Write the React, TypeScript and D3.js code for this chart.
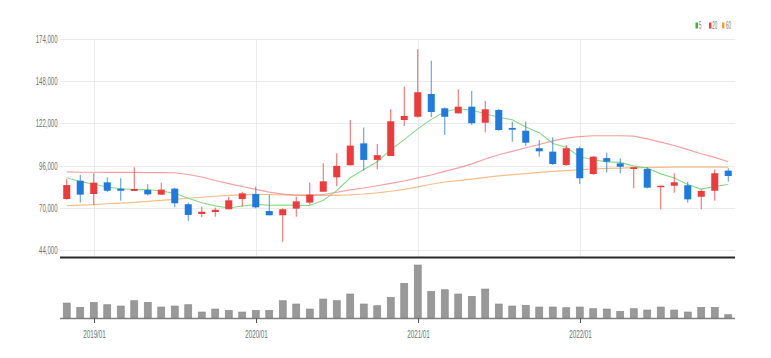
import React from 'react';
import * as d3 from 'd3';

const months = [
  '2018/11','2018/12',
  '2019/01','2019/02','2019/03','2019/04','2019/05','2019/06','2019/07','2019/08','2019/09','2019/10','2019/11','2019/12',
  '2020/01','2020/02','2020/03','2020/04','2020/05','2020/06','2020/07','2020/08','2020/09','2020/10','2020/11','2020/12',
  '2021/01','2021/02','2021/03','2021/04','2021/05','2021/06','2021/07','2021/08','2021/09','2021/10','2021/11','2021/12',
  '2022/01','2022/02','2022/03','2022/04','2022/05','2022/06','2022/07','2022/08','2022/09','2022/10','2022/11','2022/12',
];

const opens = [75400, 86700, 78500, 85700, 81800, 80400, 81000, 78100, 81800, 72200, 66200, 67400, 69100, 75400, 78500, 68000, 65400, 69500, 73200, 79900, 88800, 96200, 109700, 99500, 101900, 124100, 126100, 140100, 131300, 128200, 132300, 122400, 130300, 119200, 117500, 106700, 104600, 96400, 106700, 90800, 100600, 97400, 93900, 93900, 82800, 83600, 83900, 76800, 80500, 92900];
const highs = [87700, 90200, 91300, 88800, 88200, 95000, 84500, 85500, 82400, 73200, 70700, 70100, 76800, 79900, 83000, 77900, 69700, 76800, 85500, 97400, 103600, 124100, 119400, 109300, 130700, 144600, 167700, 160600, 131800, 143000, 142000, 135800, 130700, 123100, 123100, 111800, 113400, 108700, 107700, 101900, 104000, 100500, 95000, 95000, 83600, 91300, 86100, 81400, 93700, 94300];
const lows = [75000, 73200, 71700, 79600, 74400, 80400, 77500, 78100, 70300, 61900, 64200, 64500, 69100, 70700, 69700, 65400, 49100, 64500, 71900, 79900, 83400, 96200, 92900, 93700, 101900, 120400, 125500, 125800, 114900, 128200, 121000, 116500, 117500, 110700, 108100, 101500, 96400, 95800, 84700, 90200, 91700, 91300, 82000, 82000, 69100, 79300, 73200, 69100, 74400, 86100];
const closes = [84000, 78100, 85500, 80500, 80500, 81600, 78300, 81200, 72800, 65600, 67600, 68800, 74600, 78900, 70300, 65400, 69100, 74000, 78100, 86300, 95800, 108300, 99500, 102400, 123300, 126600, 141200, 129000, 126100, 132300, 122100, 130700, 117900, 118100, 110100, 104800, 97000, 106700, 88200, 101500, 98400, 95300, 95000, 82400, 83600, 85700, 75200, 80400, 91300, 89600];
const volumes = [1500, 1070, 1570, 1330, 1200, 1730, 1570, 1100, 1200, 1330, 600, 900, 770, 600, 770, 770, 1730, 1400, 900, 1900, 1730, 2400, 1400, 1230, 2070, 3470, 5300, 2670, 2830, 2400, 2170, 2900, 1400, 1200, 1270, 1100, 1100, 1030, 1100, 930, 900, 670, 930, 800, 1100, 800, 600, 1070, 1070, 330];

const ma5 = [88500, 86200, 84500, 82800, 81700, 81200, 81300, 80400, 78900, 75900, 73100, 71200, 69900, 71100, 72100, 71600, 71700, 71500, 71400, 74600, 80600, 88500, 93600, 98400, 105800, 112000, 118600, 124500, 129200, 131000, 130100, 128000, 125800, 124200, 119800, 116300, 109600, 107300, 101400, 99600, 98300, 98000, 95700, 94500, 90900, 88400, 84400, 81500, 83200, 84400];
const ma20 = [92100, 91900, 91900, 91800, 91800, 91800, 91700, 91700, 91600, 90500, 89000, 86800, 84900, 83100, 81300, 79700, 78400, 77900, 77800, 78200, 79600, 81000, 82200, 83600, 85000, 86500, 88400, 90200, 92400, 94600, 97100, 100100, 102700, 104800, 107000, 109000, 111200, 112900, 113800, 114400, 114400, 114400, 114200, 112500, 110500, 108400, 105800, 103300, 101100, 98400];
const ma60 = [71300, 71700, 72000, 72500, 72900, 73400, 73900, 74600, 75200, 75900, 76500, 77100, 77600, 78000, 78300, 78200, 77900, 77700, 77600, 77600, 77700, 78000, 78500, 79200, 80200, 81400, 82900, 84500, 85900, 86800, 87700, 88700, 89700, 90400, 91100, 91800, 92400, 92900, 93500, 93900, 94300, 94500, 94700, 94800, 94900, 95000, 95000, 95000, 95000, 95000];

const yTicks = [44000, 70000, 96000, 122000, 148000, 174000];
const xTickLabels = ['2019/01', '2020/01', '2021/01', '2022/01'];
const legendLabels = ['5', '20', '60'];

const W = 771;
const H = 358;
const LEFT = 60;
const RIGHT = 735;

const UP = '#ee3a3a';
const DOWN = '#1f7ae0';

export default function App() {
  const x = d3.scaleBand<string>().domain(months).range([LEFT, RIGHT]).padding(0);
  const bw = x.bandwidth();
  const cx = (i: number) => (x(months[i]) as number) + bw / 2;
  const body = bw * 0.52;
  const y = d3.scaleLinear().domain([44000, 174000]).range([250, 39]);
  const yv = d3.scaleLinear().domain([0, 6000]).range([318, 258]);

  const line = d3.line<number>().x((_, i) => cx(i)).y((d) => y(d));
  const fmt = d3.format(',');

  const legendColors = ['#2db82d', '#ee3b3b', '#f0a030'];
  const legendRectX = [695.5, 709, 722];
  const legendTextX = [699, 712.3, 726];

  return (
    <svg width={W} height={H} style={{ position: 'absolute', left: 0, top: 0, fontFamily: 'Liberation Sans, Arial, sans-serif' }}>
      <rect x={0} y={0} width={W} height={H} fill="#fff" />
      {yTicks.map((t) => (
        <line key={'g' + t} x1={LEFT} x2={RIGHT} y1={Math.round(y(t)) + 0.5} y2={Math.round(y(t)) + 0.5} stroke="#ebebeb" strokeWidth={1} />
      ))}
      {xTickLabels.map((m) => {
        const xx = Math.round(cx(months.indexOf(m))) + 0.5;
        return <line key={'v' + m} x1={xx} x2={xx} y1={39} y2={257} stroke="#ebebeb" strokeWidth={1} />;
      })}
      {yTicks.map((t) => (
        <text key={'yl' + t} transform={`translate(57.5,${y(t) + 4}) scale(0.55,1)`} textAnchor="end" fontSize={11} fill="#6f6f6f">
          {fmt(t)}
        </text>
      ))}
      <path d={line(ma60) || ''} fill="none" stroke="#f2a860" strokeOpacity={0.75} strokeWidth={1.2} />
      <path d={line(ma20) || ''} fill="none" stroke="#f08080" strokeOpacity={0.75} strokeWidth={1.2} />
      <path d={line(ma5) || ''} fill="none" stroke="#72d272" strokeOpacity={0.85} strokeWidth={1.1} />
      {months.map((m, i) => {
        const o = opens[i], c = closes[i], h = highs[i], l = lows[i];
        const col = c >= o ? UP : DOWN;
        const top = y(Math.max(o, c));
        const bot = y(Math.min(o, c));
        return (
          <g key={'c' + m}>
            <line x1={cx(i)} x2={cx(i)} y1={y(h)} y2={y(l)} stroke={col} strokeOpacity={0.8} strokeWidth={1} />
            <rect x={cx(i) - body / 2} y={top} width={body} height={Math.max(1.5, bot - top)} fill={col} />
          </g>
        );
      })}
      <line x1={LEFT} x2={RIGHT} y1={257.5} y2={257.5} stroke="#2a2a2a" strokeWidth={2} />
      {months.map((m, i) => (
        <rect key={'vb' + m} x={cx(i) - body / 2} y={yv(volumes[i])} width={body} height={yv(0) - yv(volumes[i])} fill="#999" stroke="#8a8a8a" strokeWidth={0.6} />
      ))}
      <line x1={LEFT} x2={RIGHT} y1={318.5} y2={318.5} stroke="#808080" strokeWidth={1.5} />
      {xTickLabels.map((m) => {
        const xx = Math.round(cx(months.indexOf(m))) + 0.5;
        return (
          <g key={'xt' + m}>
            <line x1={xx} x2={xx} y1={318} y2={323} stroke="#555" strokeWidth={1} />
            <text transform={`translate(${xx},338) scale(0.57,1)`} textAnchor="middle" fontSize={11} fill="#6f6f6f">
              {m}
            </text>
          </g>
        );
      })}
      {legendLabels.map((lab, i) => (
        <g key={'lg' + lab}>
          <rect x={legendRectX[i]} y={22.5} width={2.4} height={6} fill={legendColors[i]} />
          <text transform={`translate(${legendTextX[i]},29) scale(0.4,1)`} fontSize={11} fill="#777">
            {lab}
          </text>
        </g>
      ))}
    </svg>
  );
}
